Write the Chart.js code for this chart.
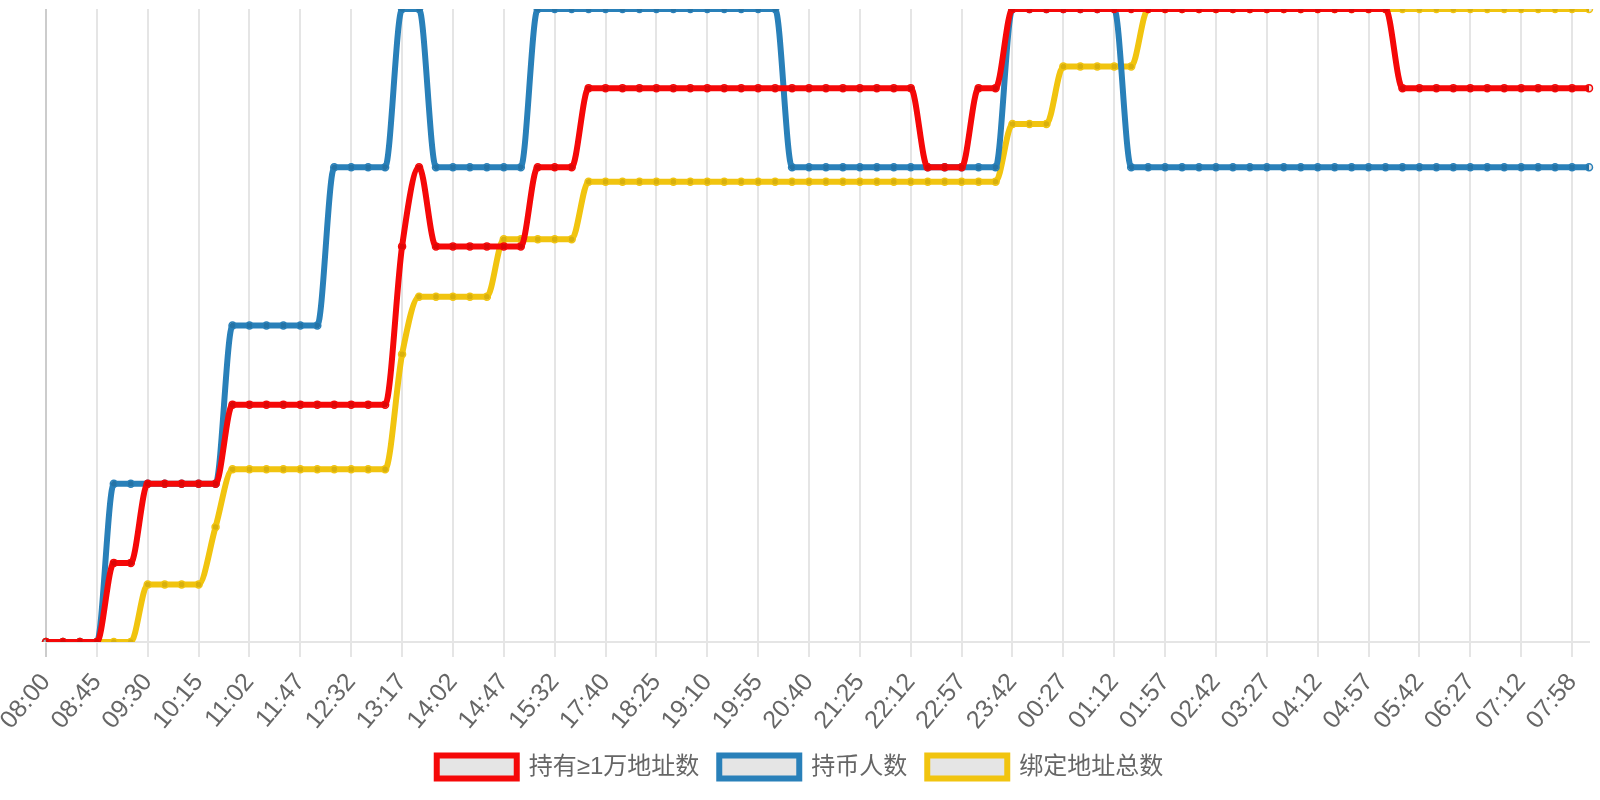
<!DOCTYPE html>
<html>
<head>
<meta charset="utf-8">
<script src="https://cdn.jsdelivr.net/npm/chart.js@4/dist/chart.umd.min.js"></script>
<style>
  html, body { margin: 0; padding: 0; background: #fff; }
  #wrap { width: 1600px; height: 800px; }
</style>
</head>
<body>
<div id="wrap"><canvas id="chartHolders"></canvas></div>
<script>
// time labels, one point every ~15 min (only every 3rd one is shown on the axis)
const timeLabels = [
  "08:00", "08:15", "08:30", "08:45", "09:00", "09:15", "09:30", "09:45", "10:00", "10:15",
  "10:30", "10:47", "11:02", "11:17", "11:32", "11:47", "12:02", "12:17", "12:32", "12:47",
  "13:02", "13:17", "13:32", "13:47", "14:02", "14:17", "14:32", "14:47", "15:02", "15:17",
  "15:32", "16:10", "17:25", "17:40", "17:55", "18:10", "18:25", "18:40", "18:55", "19:10",
  "19:25", "19:40", "19:55", "20:10", "20:25", "20:40", "20:55", "21:10", "21:25", "21:40",
  "21:57", "22:12", "22:27", "22:42", "22:57", "23:12", "23:27", "23:42", "23:57", "00:12",
  "00:27", "00:42", "00:57", "01:12", "01:27", "01:42", "01:57", "02:12", "02:27", "02:42",
  "02:57", "03:12", "03:27", "03:42", "03:57", "04:12", "04:27", "04:42", "04:57", "05:12",
  "05:27", "05:42", "05:57", "06:12", "06:27", "06:42", "06:57", "07:12", "07:27", "07:43",
  "07:58", "08:13"
];

// 持有≥1万地址数
const holdersOver10k = [
  0, 0, 0, 0, 1, 1, 2, 2, 2, 2,
  2, 3, 3, 3, 3, 3, 3, 3, 3, 3,
  3, 5, 6, 5, 5, 5, 5, 5, 5, 6,
  6, 6, 7, 7, 7, 7, 7, 7, 7, 7,
  7, 7, 7, 7, 7, 7, 7, 7, 7, 7,
  7, 7, 6, 6, 6, 7, 7, 8, 8, 8,
  8, 8, 8, 8, 8, 8, 8, 8, 8, 8,
  8, 8, 8, 8, 8, 8, 8, 8, 8, 8,
  7, 7, 7, 7, 7, 7, 7, 7, 7, 7,
  7, 7
];

// 持币人数
const coinHolders = [
  0, 0, 0, 0, 1, 1, 1, 1, 1, 1,
  1, 2, 2, 2, 2, 2, 2, 3, 3, 3,
  3, 4, 4, 3, 3, 3, 3, 3, 3, 4,
  4, 4, 4, 4, 4, 4, 4, 4, 4, 4,
  4, 4, 4, 4, 3, 3, 3, 3, 3, 3,
  3, 3, 3, 3, 3, 3, 3, 4, 4, 4,
  4, 4, 4, 4, 3, 3, 3, 3, 3, 3,
  3, 3, 3, 3, 3, 3, 3, 3, 3, 3,
  3, 3, 3, 3, 3, 3, 3, 3, 3, 3,
  3, 3
];

// 绑定地址总数
const boundAddresses = [
  0, 0, 0, 0, 0, 0, 1, 1, 1, 1,
  2, 3, 3, 3, 3, 3, 3, 3, 3, 3,
  3, 5, 6, 6, 6, 6, 6, 7, 7, 7,
  7, 7, 8, 8, 8, 8, 8, 8, 8, 8,
  8, 8, 8, 8, 8, 8, 8, 8, 8, 8,
  8, 8, 8, 8, 8, 8, 8, 9, 9, 9,
  10, 10, 10, 10, 10, 11, 11, 11, 11, 11,
  11, 11, 11, 11, 11, 11, 11, 11, 11, 11,
  11, 11, 11, 11, 11, 11, 11, 11, 11, 11,
  11, 11
];

const seriesNames = ["持有≥1万地址数", "持币人数", "绑定地址总数"];

const lineStyle = {
  fill: false,
  backgroundColor: "rgba(0, 0, 0, 0.1)",
  borderWidth: 6,
  pointRadius: 3.5,
  pointBorderWidth: 1.5,
  cubicInterpolationMode: "monotone",
};

const hiddenAxis = (max) => ({ display: false, min: 0, max: max });

const fontFamily = "'Helvetica Neue', Helvetica, Arial, 'Noto Sans CJK SC', sans-serif";

const chartHolders = document.addEventListener("DOMContentLoaded", () => {
  new Chart(document.querySelector("#chartHolders"), {
    type: "line",
    data: {
      labels: timeLabels,
      datasets: [
        { ...lineStyle, label: seriesNames[0], data: holdersOver10k, borderColor: "rgb(245, 8, 8)", yAxisID: "yHold" },
        { ...lineStyle, label: seriesNames[1], data: coinHolders, borderColor: "#2980b9", yAxisID: "yCoin" },
        { ...lineStyle, label: seriesNames[2], data: boundAddresses, borderColor: "#f1c40f", yAxisID: "yBind" },
      ],
    },
    options: {
      responsive: true,
      maintainAspectRatio: false,
      animation: false,
      layout: { padding: { top: 9, bottom: 11 } },
      scales: {
        x: {
          afterFit: (scale) => {
            // keep the plot edges where the original has them
            scale.paddingLeft = 46;
            scale.paddingRight = 11;
            scale.height = 93;
          },
          grid: {
            color: (ctx) => (ctx.index === 0 ? "rgba(0, 0, 0, 0.2)" : "rgba(0, 0, 0, 0.1)"),
            lineWidth: 2,
            tickLength: 15,
          },
          border: { color: "rgba(0, 0, 0, 0.1)", width: 2 },
          ticks: {
            autoSkip: true,
            maxTicksLimit: 31,
            minRotation: 50,
            maxRotation: 50,
            padding: 11,
            color: "#666",
            font: { family: fontFamily, size: 25 },
          },
        },
        yHold: hiddenAxis(8),
        yCoin: hiddenAxis(4),
        yBind: hiddenAxis(11),
      },
      plugins: {
        legend: {
          position: "bottom",
          labels: {
            boxWidth: 80,
            boxHeight: 23,
            padding: 20,
            color: "#666",
            font: { family: fontFamily, size: 24 },
          },
        },
        tooltip: { enabled: false },
      },
    },
  });
});
</script>
</body>
</html>
